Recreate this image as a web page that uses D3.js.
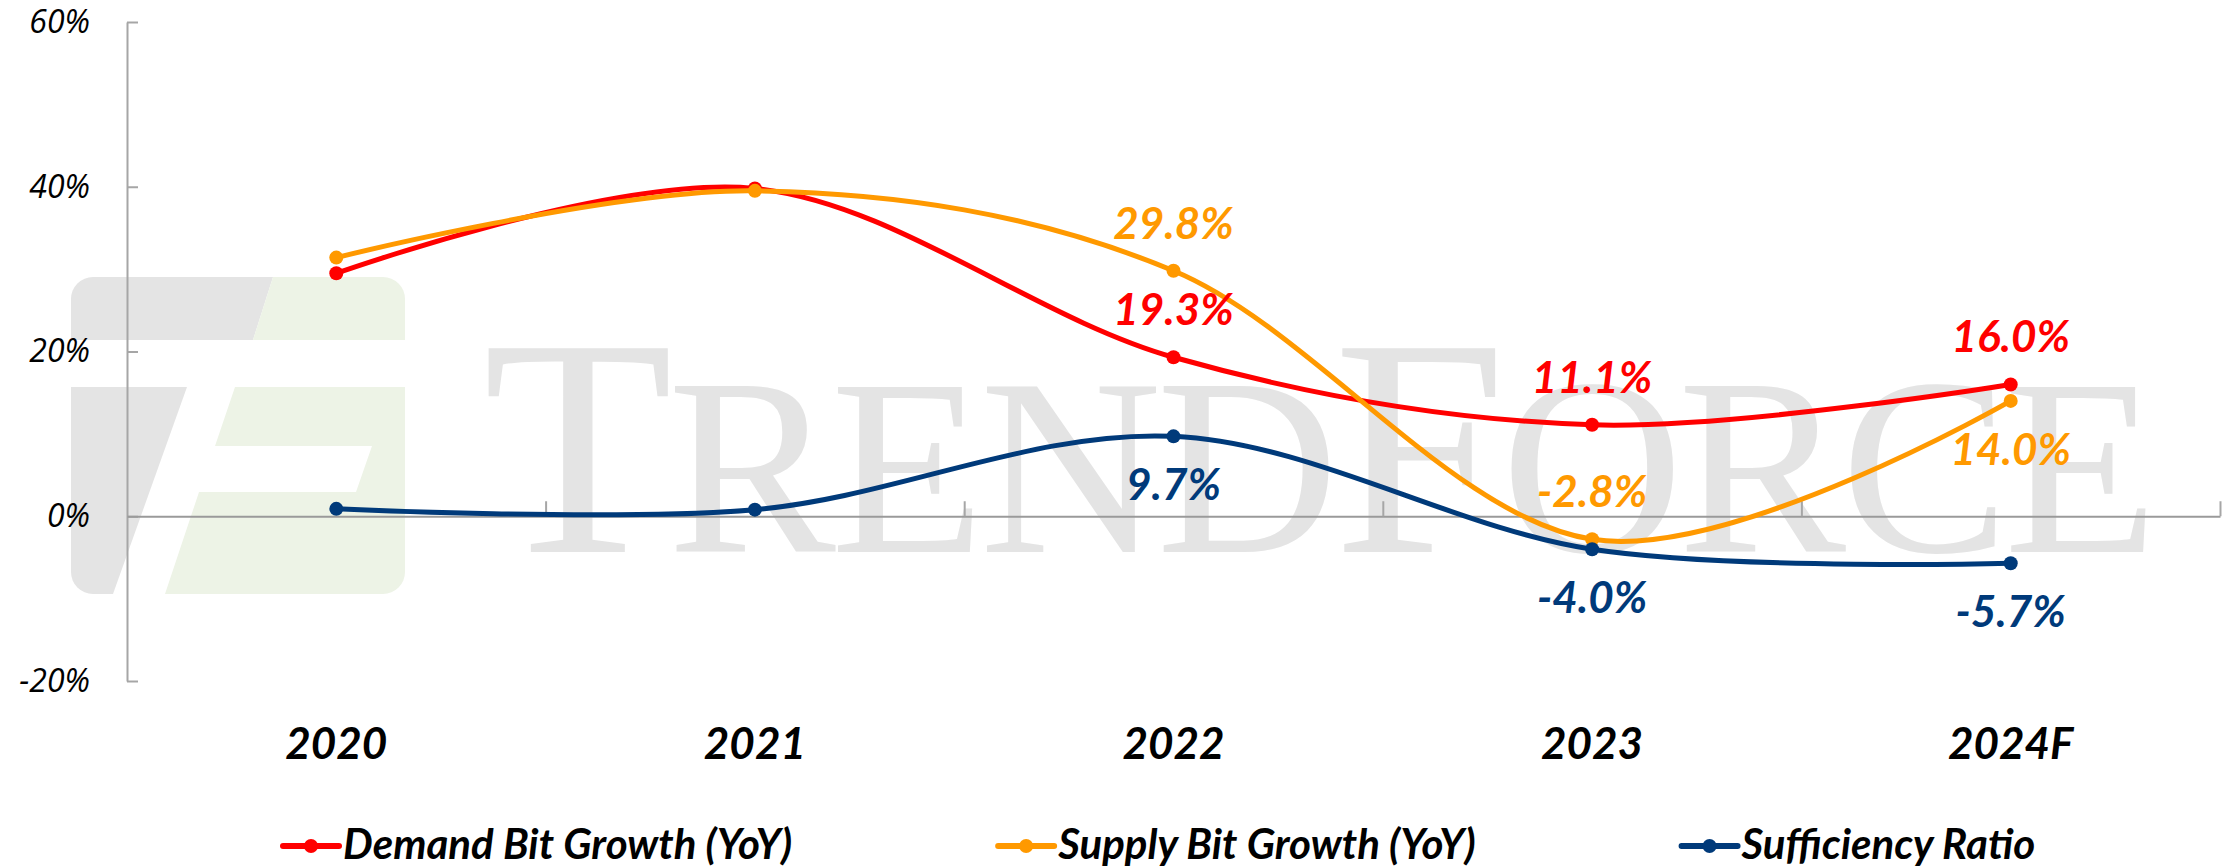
<!DOCTYPE html>
<html>
<head>
<meta charset="utf-8">
<script src="https://cdn.jsdelivr.net/npm/d3@7"></script>
<style>
  body { margin: 0; background: #fff; }
  svg { display: block; }
</style>
</head>
<body>
<div id="chart"></div>
<script>
let years = ["2020", "2021", "2022", "2023", "2024F"]
let demand = [29.5, 39.8, 19.3, 11.1, 16.0]
let supply = [31.4, 39.5, 29.8, -2.8, 14.0]
let sufficiency = [0.9, 0.8, 9.7, -4.0, -5.7]
let yTicks = [-20, 0, 20, 40, 60]
let seriesNames = ["Demand Bit Growth (YoY)", "Supply Bit Growth (YoY)", "Sufficiency Ratio"]
let seriesColors = ["#ff0000", "#ff9900", "#003a7a"]
// value labels start at this year index, side of the point per series
let labelFirst = 2
let labelSide = [["up", "up", "up"], ["up", "up", "down"], ["down", "down", "down"]]

let width = 2234, height = 867
let plot = {left: 127, right: 2220, top: 22, bottom: 681}
let labelFont = "Lato, 'Open Sans', sans-serif"

let svg = d3.select("#chart").append("svg")
    .attr("width", width)
    .attr("height", height)

let x = d3.scaleBand().domain(years).range([plot.left, plot.right])
let cx = d => x(d) + x.bandwidth() / 2
let y = d3.scaleLinear().domain([-20, 60]).range([plot.bottom, plot.top])

// watermark logo (behind everything)
svg.append("defs").append("clipPath").attr("id", "logoClip")
    .append("rect").attr("x", 71).attr("y", 277).attr("width", 334).attr("height", 317).attr("rx", 22)
let logo = svg.append("g").attr("clip-path", "url(#logoClip)")
let grey = "#e4e4e4", green = "#edf3e6"
let logoShapes = [
    [grey, [[71, 277], [273, 277], [253, 340], [71, 340]]],
    [green, [[273, 277], [405, 277], [405, 340], [253, 340]]],
    [grey, [[71, 387], [187, 387], [113, 594], [71, 594]]],
    [green, [[235, 387], [405, 387], [405, 594], [165, 594], [199, 492], [356, 492], [372, 446], [215, 446]]]
]
logo.selectAll("polygon").data(logoShapes).enter().append("polygon")
    .attr("fill", d => d[0])
    .attr("points", d => d[1].map(p => p.join(",")).join(" "))

let wm = svg.append("text")
    .attr("x", 483).attr("y", 552)
    .attr("fill", grey)
    .style("font-family", "'Liberation Serif', 'DejaVu Serif', serif")
wm.selectAll("tspan").data([["T", 311], ["REND", 252], ["F", 311], ["ORCE", 252]])
    .enter().append("tspan")
    .attr("font-size", d => d[1])
    .text(d => d[0])
let wmLen = wm.node().getComputedTextLength()
wm.attr("letter-spacing", (1675 - wmLen) / 9)

// y axis
let yAxis = svg.append("g")
    .attr("transform", "translate(" + plot.left + ",0)")
    .call(d3.axisLeft(y).tickValues(yTicks).tickSizeInner(-11).tickSizeOuter(0)
        .tickPadding(37).tickFormat(d => d + "%"))
yAxis.selectAll("path, line").attr("stroke", "#a6a6a6").attr("stroke-width", 2)
yAxis.selectAll("text")
    .attr("fill", "#000")
    .style("font-family", "'Open Sans', sans-serif")
    .style("font-style", "italic")
    .style("font-size", "32px")

// zero line with category boundary ticks
let xEdge = d3.scaleLinear().domain([0, years.length]).range(x.range())
let xAxis = svg.append("g")
    .attr("transform", "translate(0," + y(0) + ")")
    .call(d3.axisTop(xEdge).tickValues(d3.range(1, years.length + 1))
        .tickSizeInner(15).tickSizeOuter(0).tickFormat(""))
xAxis.select(".domain").attr("stroke", "#9a9a9a").attr("stroke-width", 2)
xAxis.selectAll("line").attr("stroke", "#a6a6a6").attr("stroke-width", 2)

// category labels
svg.append("g").selectAll("text").data(years).enter().append("text")
    .attr("x", d => cx(d))
    .attr("y", 759)
    .attr("text-anchor", "middle")
    .style("font-family", labelFont)
    .style("font-weight", "bold")
    .style("font-style", "italic")
    .style("font-size", "44px")
    .text(d => d)

// lines
let series = [demand, supply, sufficiency]
let line = d3.line()
    .x((d, i) => cx(years[i]))
    .y(d => y(d))
    .curve(d3.curveCatmullRom.alpha(0))

series.forEach(function (vals, s) {
    let g = svg.append("g")
    g.append("path")
        .attr("d", line(vals))
        .attr("fill", "none")
        .attr("stroke", seriesColors[s])
        .attr("stroke-width", 5)
        .attr("stroke-linecap", "round")
    g.selectAll("circle").data(vals).enter().append("circle")
        .attr("cx", (d, i) => cx(years[i]))
        .attr("cy", d => y(d))
        .attr("r", 7)
        .attr("fill", seriesColors[s])
})

// value labels (plain hyphen for negatives, like the original)
let fmt = d3.formatLocale({decimal: ".", thousands: ",", grouping: [3], currency: ["", ""], minus: "-"}).format(".1f")
series.forEach(function (vals, s) {
    let pts = vals.map((v, i) => ({v: v, i: i})).filter(p => p.i >= labelFirst)
    svg.append("g").selectAll("text").data(pts).enter().append("text")
        .attr("x", p => cx(years[p.i]))
        .attr("y", p => labelSide[s][p.i - labelFirst] == "up" ? y(p.v) - 32 : y(p.v) + 64)
        .attr("text-anchor", "middle")
        .attr("fill", seriesColors[s])
        .style("font-family", labelFont)
        .style("font-weight", "bold")
        .style("font-style", "italic")
        .style("font-size", "44px")
        .text(p => fmt(p.v) + "%")
})

// legend, laid out left to right
let legX = 283
seriesNames.forEach(function (name, s) {
    let g = svg.append("g").attr("transform", "translate(" + legX + ",846)")
    g.append("line")
        .attr("x1", 0).attr("x2", 56)
        .attr("stroke", seriesColors[s])
        .attr("stroke-width", 6)
        .attr("stroke-linecap", "round")
    g.append("circle").attr("cx", 28).attr("r", 7).attr("fill", seriesColors[s])
    let t = g.append("text")
        .attr("x", 60).attr("y", 13)
        .style("font-family", labelFont)
        .style("font-weight", "bold")
        .style("font-style", "italic")
        .style("font-size", "42px")
        .text(name)
    legX += 60 + t.node().getComputedTextLength() + 206
})
</script>
</body>
</html>
